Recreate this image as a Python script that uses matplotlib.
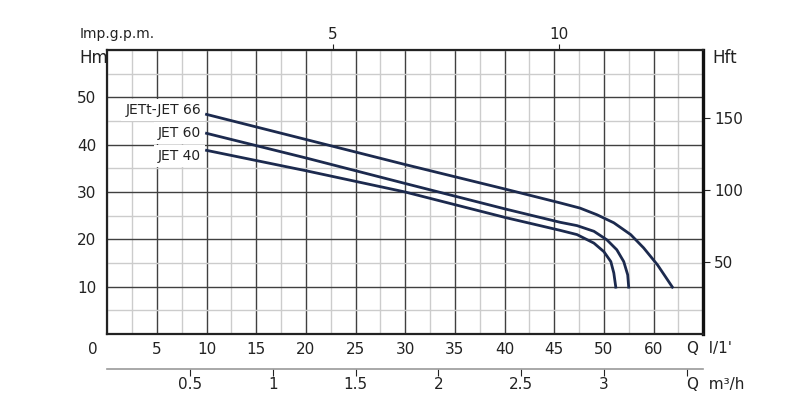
import matplotlib
matplotlib.use("Agg")
import matplotlib.pyplot as plt
from matplotlib.ticker import MultipleLocator

plt.rcParams["font.family"] = ["DejaVu Sans"]

# flow in l/min, head in m
jet66_q = [10, 20, 30, 40.1, 45.6, 47.6, 49.3, 51.0, 52.7, 54.0, 55.4, 56.2, 56.9]
jet66_h = [46.4, 41.1, 35.8, 30.6, 27.7, 26.6, 25.2, 23.5, 21.0, 18.2, 14.6, 12.1, 9.9]
jet60_q = [10, 20, 30, 40.1, 45.6, 47.3, 49.0, 50.3, 51.3, 52.0, 52.4, 52.5]
jet60_h = [42.4, 37.2, 31.8, 26.4, 23.6, 22.9, 21.7, 19.9, 17.8, 15.3, 12.5, 9.9]
jet40_q = [10, 20, 30, 40.1, 45.6, 47.3, 49.0, 50.0, 50.7, 51.0, 51.2]
jet40_h = [38.8, 34.5, 30.0, 24.6, 21.9, 21.0, 19.2, 17.4, 15.3, 12.9, 9.9]

curve_names = ["JETt-JET 66", "JET 60", "JET 40"]

q_ticks = [5, 10, 15, 20, 25, 30, 35, 40, 45, 50, 55]
q_labels = ["5", "10", "15", "20", "25", "30", "35", "40", "45", "50", "60"]
h_ticks = [10, 20, 30, 40, 50]
hft_ticks = [50, 100, 150]
gpm_ticks = [5, 10]
m3h_ticks = [0.5, 1, 1.5, 2, 2.5, 3, 3.5]
m3h_labels = ["0.5", "1", "1.5", "2", "2.5", "3", ""]

LPM_PER_GPM = 4.546
FT_PER_M = 3.2808
curve_color = "#1c2a4e"
text_color = "#222222"

fig = plt.figure(figsize=(8, 4.05), dpi=100)
ax = fig.add_axes([0.134, 0.1753, 0.745, 0.7012])
ax.set_xlim(0, 60)
ax.set_ylim(0, 60)

# grid
ax.xaxis.set_major_locator(MultipleLocator(5))
ax.xaxis.set_minor_locator(MultipleLocator(2.5))
ax.yaxis.set_major_locator(MultipleLocator(10))
ax.yaxis.set_minor_locator(MultipleLocator(5))
ax.grid(which="major", color="#404040", linewidth=1.0)
ax.grid(which="minor", color="#cccccc", linewidth=1.0)
ax.set_axisbelow(True)

ax.set_xticks(q_ticks)
ax.set_xticklabels(q_labels)
ax.set_yticks(h_ticks)
ax.tick_params(axis="both", which="both", length=0, labelsize=11, colors=text_color)
ax.tick_params(axis="x", pad=6)
ax.tick_params(axis="y", pad=8)

for side in ["left", "bottom", "top"]:
    ax.spines[side].set_linewidth(1.6)
    ax.spines[side].set_color("#222222")
ax.spines["right"].set_linewidth(2.4)
ax.spines["right"].set_color("#111111")

# curves, with their names at the start of each line
label_offsets = [3, 0, -4]
for q, h, name, dy in zip([jet66_q, jet60_q, jet40_q], [jet66_h, jet60_h, jet40_h],
                          curve_names, label_offsets):
    ax.plot(q, h, color=curve_color, linewidth=2.0, solid_joinstyle="round", zorder=4)
    ax.annotate(name, xy=(q[0], h[0]), xytext=(-4, dy), textcoords="offset points",
                ha="right", va="center", fontsize=10, color=text_color, zorder=3,
                bbox=dict(boxstyle="square,pad=0.3", facecolor="white", edgecolor="none"))

# top axis: Imp.g.p.m.
top = ax.secondary_xaxis("top", functions=(lambda x: x / LPM_PER_GPM, lambda g: g * LPM_PER_GPM))
top.set_xticks(gpm_ticks)
top.tick_params(length=4, width=0.8, colors=text_color, labelsize=11, pad=2)
top.spines["top"].set_visible(False)

# right axis: Hft
right = ax.secondary_yaxis("right", functions=(lambda m: m * FT_PER_M, lambda f: f / FT_PER_M))
right.set_yticks(hft_ticks)
right.tick_params(length=5, width=0.8, colors=text_color, labelsize=11, pad=3)
right.spines["right"].set_visible(False)

# second bottom axis: m3/h
bot = ax.secondary_xaxis(-0.123, functions=(lambda x: x * 0.06, lambda m: m / 0.06))
bot.set_xticks(m3h_ticks)
bot.set_xticklabels(m3h_labels)
bot.tick_params(length=5, width=0.8, colors=text_color, labelsize=11, pad=1, direction="out")
bot.spines["bottom"].set_color("#999999")
bot.spines["bottom"].set_linewidth(1.2)

# axis captions
ax.text(-1.4, -3.2, "0", ha="center", va="center", fontsize=11, color=text_color, clip_on=False)
ax.text(-2.8, 58.3, "Hm", ha="left", va="center", fontsize=12, color=text_color, clip_on=False)
ax.text(1.015, 58.3, "Hft", transform=ax.get_yaxis_transform(), ha="left", va="center",
        fontsize=12, color=text_color, clip_on=False)
ax.text(-2.8, 63.3, "Imp.g.p.m.", ha="left", va="center", fontsize=10, color=text_color, clip_on=False)
ax.text(58.4, -3.0, "Q  l/1'", ha="left", va="center", fontsize=11, color=text_color, clip_on=False)
ax.text(58.4, -10.6, "Q  m³/h", ha="left", va="center", fontsize=11, color=text_color, clip_on=False)

fig.savefig("out.png", dpi=100, facecolor="white")
